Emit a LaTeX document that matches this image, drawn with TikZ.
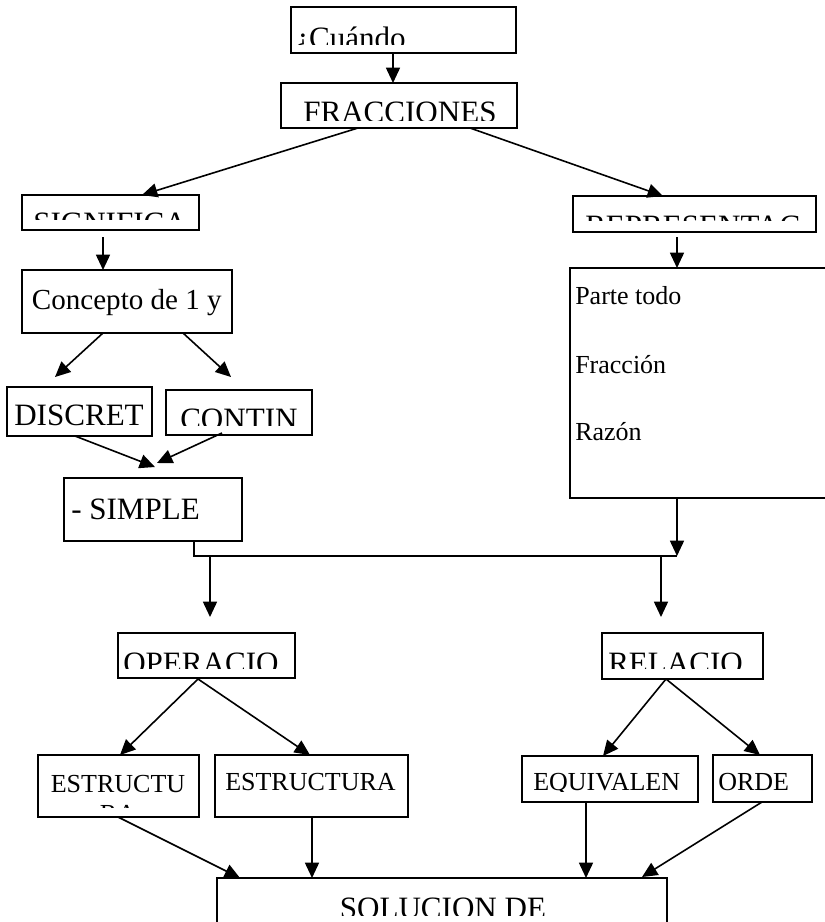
\documentclass[tikz,border=0pt]{standalone}
\usepackage{fontspec}
\setmainfont{Liberation Serif}
\usetikzlibrary{arrows.meta,fit,calc}
\newcommand\fbig{\fontsize{23.3}{28}\selectfont}
\newcommand\fsmall{\fontsize{19.5}{22.5}\selectfont}
\newcommand\fmid{\fontsize{21.8}{26}\selectfont}
\begin{document}
\begin{tikzpicture}[x=0.75pt,y=-0.75pt,
  boxsty/.style={draw,line width=1.2pt,inner sep=0pt,outer sep=0pt},
  arr/.style={line width=1.2pt,-{Triangle[length=11.5pt,width=10.5pt]}},
  ln/.style={line width=1.2pt},
  lbl/.style={inner sep=0pt,anchor=base west,font=\fbig},
  lblc/.style={inner sep=0pt,anchor=base,font=\fbig}]
\useasboundingbox (0,0) rectangle (825,922);

% boxes
\node[boxsty, fit={(291,7)(516,53)}] (cu) {};
\node[boxsty, fit={(281,83)(517,128)}] (fr) {};
\node[boxsty, fit={(22,195)(199,230)}] (sig) {};
\node[boxsty, fit={(573,196)(816,232)}] (rep) {};
\node[boxsty, fit={(22,270)(232,333)}] (con) {};
\node[boxsty, fit={(570,268)(835,498)}] (big) {};
\node[boxsty, fit={(7,387)(152,436)}] (dis) {};
\node[boxsty, fit={(166,390)(312,435)}] (cont) {};
\node[boxsty, fit={(64,478)(242,541)}] (sim) {};
\node[boxsty, fit={(118,633)(295,678)}] (op) {};
\node[boxsty, fit={(602,633)(763,679)}] (rel) {};
\node[boxsty, fit={(38,755)(199,817)}] (e1) {};
\node[boxsty, fit={(215,755)(408,817)}] (e2) {};
\node[boxsty, fit={(522,756)(698,802)}] (eq) {};
\node[boxsty, fit={(713,755)(812,802)}] (ord) {};
\node[boxsty, fit={(217,878)(667,940)}] (sol) {};

% texts (clipped like the original text frames)
\begin{scope}\clip (292,8) rectangle (515,44);
\node[lbl] (cu-t) at (295,48.5) {¿Cuándo};\end{scope}
\begin{scope}\clip (282,84) rectangle (516,120);
\node[lbl] (fr-t) at (303,122.5) {FRACCIONES};\end{scope}
\begin{scope}\clip (23,196) rectangle (198,219);
\node[lbl] (sig-t) at (33,233) {SIGNIFICA};\end{scope}
\begin{scope}\clip (574,197) rectangle (815,220.7);
\node[lbl] (rep-t) at (585,236.5) {REPRESENTAC};\end{scope}
\node[lbl,font=\fmid] (con-t) at (31.7,309) {Concepto de 1 y};
\node[lbl,font=\fsmall] (big-t1) at (575,304) {Parte todo};
\node[lbl,font=\fsmall] (big-t2) at (575,373) {Fracción};
\node[lbl,font=\fsmall] (big-t3) at (575,440) {Razón};
\begin{scope}\clip (8,388) rectangle (151,425);
\node[lbl] (dis-t) at (14,425.5) {DISCRET};\end{scope}
\begin{scope}\clip (167,391) rectangle (311,425);
\node[lbl] (cont-t) at (180,429.5) {CONTIN};\end{scope}
\node[lbl] (sim-t) at (71,519) {- SIMPLE};
\begin{scope}\clip (119,634) rectangle (294,668);
\node[lbl] (op-t) at (123,673) {OPERACIO};\end{scope}
\begin{scope}\clip (603,634) rectangle (762,668);
\node[lbl] (rel-t) at (608,673) {RELACIO};\end{scope}
\begin{scope}\clip (39,756) rectangle (198,807);
\node[lblc,font=\fsmall] (e1-t) at (118,792) {ESTRUCTU};
\node[lblc,font=\fsmall] (e1-t2) at (118,822) {RA};\end{scope}
\node[lbl,font=\fsmall] (e2-t) at (225,790.7) {ESTRUCTURA};
\begin{scope}\clip (523,757) rectangle (697,791);
\node[lbl,font=\fsmall] (eq-t) at (533,790) {EQUIVALEN};\end{scope}
\node[lbl,font=\fsmall] (ord-t) at (718,790) {ORDE};
\begin{scope}\clip (218,879) rectangle (666,915);
\node[lblc] (sol-t) at (443,918.5) {SOLUCION DE};\end{scope}

% connectors
\draw[arr] ($(cu.south west)+(102,0)$) -- ($(fr.north west)+(112,0)$);
\draw[arr] ($(fr.south west)+(77,0)$) -- ($(sig.north west)+(120,0)$);
\draw[arr] ($(fr.south west)+(189,0)$) -- ($(rep.north west)+(90,0)$);
\draw[arr] ($(sig.south west)+(81,7)$) -- ($(con.north west)+(81,0)$);
\draw[arr] ($(rep.south west)+(104,5)$) -- ($(big.north west)+(107,0)$);
\draw[arr] ($(con.south west)+(81,0)$) -- ($(dis.north west)+(48,-10)$);
\draw[arr] ($(con.south west)+(161,0)$) -- ($(cont.north west)+(65,-13)$);
\draw[arr] ($(dis.south west)+(68,0)$) -- ($(sim.north west)+(91,-11)$);
\draw[arr] ($(cont.south west)+(56,-2)$) -- ($(sim.north west)+(93,-15)$);

\coordinate (jr) at ($(big.south west)+(107,58)$);
\coordinate (jop) at ($(sim.south west)+(146,15)$);
\coordinate (jrel) at ($(big.south west)+(91,58)$);
\draw[ln] ($(sim.south west)+(130,0)$) |- (jr);
\draw[arr] ($(big.south west)+(107,0)$) -- (jr);
\draw[arr] (jop) -- ($(op.north west)+(92,-16)$);
\draw[arr] (jrel) -- ($(rel.north west)+(59,-16)$);

\draw[arr] ($(op.south west)+(80,1)$) -- ($(e1.north west)+(82,0)$);
\draw[arr] ($(op.south west)+(80,1)$) -- ($(e2.north west)+(95,0)$);
\draw[arr] ($(rel.south west)+(64,0)$) -- ($(eq.north west)+(81,0)$);
\draw[arr] ($(rel.south west)+(64,0)$) -- ($(ord.north west)+(47,0)$);

\draw[arr] ($(e1.south west)+(80,0)$) -- ($(sol.north west)+(23,0)$);
\draw[arr] ($(e2.south west)+(97,0)$) -- ($(sol.north west)+(95,0)$);
\draw[arr] ($(eq.south west)+(64,0)$) -- ($(sol.north west)+(369,0)$);
\draw[arr] ($(ord.south west)+(49,0)$) -- ($(sol.north west)+(425,-1)$);
\end{tikzpicture}
\end{document}
